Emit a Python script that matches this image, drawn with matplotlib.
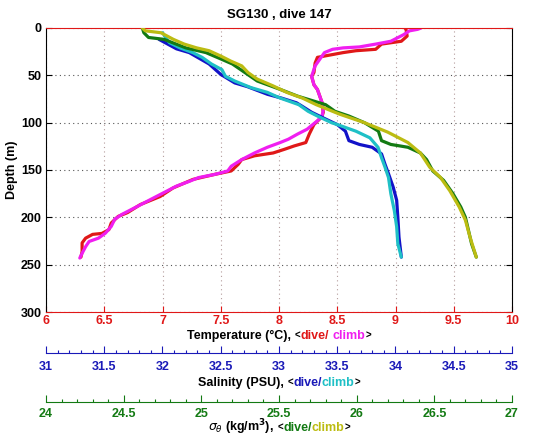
import matplotlib
matplotlib.use("Agg")
import matplotlib.pyplot as plt
import numpy as np

plt.rcParams['font.family'] = ['Liberation Sans', 'DejaVu Sans']
plt.rcParams['mathtext.fontset'] = 'dejavusans'

# ---------------- data ----------------
title = "SG130 , dive 147"

temp_dive_depth = [0, 1.4, 8.5, 14, 17, 22.5, 24, 26, 31, 37, 47, 51, 60, 65, 72, 79, 89, 93, 96,
                   102, 112, 121, 124.6, 128, 132, 135, 139, 144, 151, 154.6, 160, 169, 178, 186.5,
                   195, 199, 206, 213, 217, 218, 222, 227, 236, 242]
temp_dive = [9.08, 9.09, 9.10, 9.05, 8.88, 8.83, 8.66, 8.55, 8.33, 8.31, 8.30, 8.28, 8.30, 8.33,
             8.35, 8.37, 8.38, 8.37, 8.35, 8.30, 8.26, 8.23, 8.13, 8.05, 7.95, 7.79, 7.68, 7.65,
             7.59, 7.45, 7.26, 7.09, 6.98, 6.81, 6.70, 6.62, 6.56, 6.54, 6.48, 6.40, 6.34, 6.31,
             6.31, 6.30]

temp_climb_depth = [0, 1.4, 3, 7, 14, 17, 20, 21, 22.5, 26, 33, 40, 51, 60, 65, 72, 79, 86, 93, 98,
                    107, 112, 117.5, 121, 126, 132, 139, 146, 151, 154.6, 158, 162, 167, 174, 181,
                    190, 197, 202, 209.6, 216.7, 222, 225.5, 231, 238, 243]
temp_climb = [9.22, 9.19, 9.12, 9.07, 8.96, 8.83, 8.69, 8.55, 8.46, 8.39, 8.35, 8.31, 8.28, 8.30,
              8.33, 8.35, 8.37, 8.38, 8.37, 8.33, 8.24, 8.16, 8.08, 8.01, 7.90, 7.79, 7.68, 7.59,
              7.56, 7.45, 7.31, 7.23, 7.12, 7.01, 6.90, 6.76, 6.65, 6.59, 6.56, 6.51, 6.45, 6.37,
              6.34, 6.31, 6.29]

sal_dive_depth = [12, 22, 26, 38, 49, 58, 62, 70, 74, 79, 82, 89, 95, 102, 109, 119, 123, 126, 133,
                  144, 154, 168, 182, 200, 221, 242]
sal_dive = [31.97, 32.12, 32.23, 32.40, 32.50, 32.62, 32.73, 32.90, 33.02, 33.15, 33.19, 33.28,
            33.38, 33.50, 33.57, 33.60, 33.69, 33.80, 33.88, 33.91, 33.94, 33.98, 34.01, 34.02,
            34.03, 34.05]

sal_climb_depth = [5, 15.5, 21, 26, 31, 38, 44, 51, 56, 63, 68, 74, 81, 88, 93, 100, 102, 109, 116,
                   126, 137, 147, 158, 175, 193, 210, 228, 242]
sal_climb = [32.00, 32.06, 32.15, 32.26, 32.34, 32.42, 32.51, 32.54, 32.62, 32.76, 32.90, 33.01,
             33.17, 33.25, 33.33, 33.45, 33.50, 33.66, 33.78, 33.85, 33.88, 33.91, 33.94, 33.96,
             33.99, 34.01, 34.02, 34.05]

sig_dive_depth = [0, 5, 10, 12, 21, 26, 33, 38, 47, 56, 65, 72, 81, 88, 93, 100, 109, 119, 123,
                  126, 132, 139, 151, 161, 175, 189, 200, 214, 228, 242]
sig_dive = [24.62, 24.63, 24.66, 24.76, 24.90, 25.03, 25.13, 25.20, 25.28, 25.36, 25.51, 25.62,
            25.80, 25.86, 25.95, 26.05, 26.14, 26.16, 26.22, 26.33, 26.41, 26.45, 26.49, 26.56,
            26.62, 26.67, 26.70, 26.72, 26.74, 26.77]

sig_climb_depth = [0, 3, 5, 12, 17, 21, 24, 30, 35, 40, 47, 54, 61, 68, 74, 81, 91, 100, 110, 121,
                   132, 147, 158, 172, 189, 203, 221, 242]
sig_climb = [24.62, 24.64, 24.74, 24.82, 24.89, 24.97, 25.05, 25.13, 25.19, 25.26, 25.30, 25.36,
             25.46, 25.55, 25.65, 25.74, 25.89, 26.05, 26.20, 26.33, 26.41, 26.47, 26.54, 26.60,
             26.66, 26.70, 26.73, 26.77]

temp_ticks = [6, 6.5, 7, 7.5, 8, 8.5, 9, 9.5, 10]
sal_ticks = [31, 31.5, 32, 32.5, 33, 33.5, 34, 34.5, 35]
sig_ticks = [24, 24.5, 25, 25.5, 26, 26.5, 27]
depth_ticks = [0, 50, 100, 150, 200, 250, 300]

# ---------------- styling ----------------
RED = '#e01818'
MAG = '#f01ef0'
BLUE = '#1a1ab8'
DBLUE = '#1212c8'
CYAN = '#1fc0c6'
GREEN = '#137a13'
YEL = '#bcbc12'

W, H = 535, 442
fig = plt.figure(figsize=(W / 100, H / 100), dpi=100)

L, R = 46, 512
TOP, BOT = 28, 312


def rect(y_top, h):
    return [L / W, 1 - (y_top + h) / H, (R - L) / W, h / H]


def fmt(v):
    return ('%g' % v)


ax = fig.add_axes(rect(TOP, BOT - TOP))
ax.set_xlim(6, 10)
ax.set_ylim(300, 0)
ax.set_xticks(temp_ticks)
ax.set_xticklabels([fmt(v) for v in temp_ticks], fontweight='bold', fontsize=9)
ax.set_yticks(depth_ticks)
ax.set_yticklabels([fmt(v) for v in depth_ticks], fontweight='bold', fontsize=9)
ax.tick_params(axis='x', colors=RED, direction='in', top=True, length=4, width=0.8, pad=2)
ax.tick_params(axis='y', colors='k', direction='in', right=True, length=4, width=0.8, pad=3)
for s in ['top', 'bottom']:
    ax.spines[s].set_color(RED)
for s in ['left', 'right']:
    ax.spines[s].set_color('k')
for s in ax.spines.values():
    s.set_linewidth(0.8)
ax.grid(axis='x', color='#b49c9c', ls=(0, (1, 3)), lw=0.8)
ax.grid(axis='y', color='#555555', ls=(0, (1, 3)), lw=0.8)

lw = 2.3
ax.plot(temp_dive, temp_dive_depth, color=RED, lw=lw, solid_capstyle='round', solid_joinstyle='round')
ax.plot(temp_climb, temp_climb_depth, color=MAG, lw=lw, solid_capstyle='round', solid_joinstyle='round')

axs = ax.twiny()
axs.set_xlim(31, 35)
axs.set_axis_off()
axs.plot(sal_dive, sal_dive_depth, color=DBLUE, lw=lw, solid_capstyle='round', solid_joinstyle='round')
axs.plot(sal_climb, sal_climb_depth, color=CYAN, lw=lw, solid_capstyle='round', solid_joinstyle='round')

axg = ax.twiny()
axg.set_xlim(24, 27)
axg.set_axis_off()
axg.plot(sig_dive, sig_dive_depth, color=GREEN, lw=lw, solid_capstyle='round', solid_joinstyle='round')
axg.plot(sig_climb, sig_climb_depth, color=YEL, lw=lw, solid_capstyle='round', solid_joinstyle='round')


def scale_axis(ypix, lo, hi, ticks, color, pad):
    a = fig.add_axes([L / W, 1 - ypix / H, (R - L) / W, 1e-5])
    a.set_xlim(lo, hi)
    a.set_yticks([])
    for s in ['top', 'left', 'right']:
        a.spines[s].set_visible(False)
    a.spines['bottom'].set_color(color)
    a.spines['bottom'].set_linewidth(0.8)
    a.patch.set_visible(False)
    a.set_xticks(ticks)
    a.set_xticklabels([fmt(v) for v in ticks], fontweight='bold', fontsize=9)
    a.set_xticks(np.arange(lo, hi + 1e-9, 0.1), minor=True)
    a.tick_params(axis='x', which='both', direction='in', colors=color, width=0.8, pad=pad)
    a.tick_params(axis='x', which='major', length=5)
    a.tick_params(axis='x', which='minor', length=2.5)
    return a


scale_axis(353, 31, 35, sal_ticks, BLUE, 6)
scale_axis(402, 24, 27, sig_ticks, GREEN, 4)

fig.text((L + R) / 2 / W, 1 - 18 / H, title, ha='center', va='baseline', fontsize=9.5, fontweight='bold')
fig.text(12 / W, 1 - 170 / H, 'Depth (m)', rotation=90, ha='center', va='center', fontsize=9, fontweight='bold')

renderer = fig.canvas.get_renderer()


def measure(s, fs):
    t = fig.text(0, 0, s, fontsize=fs, fontweight='bold')
    w = t.get_window_extent(renderer).width
    t.remove()
    return w


def mc_text(xc, ybase, parts):
    sp = measure('a a', 9) - measure('aa', 9)
    objs = []
    total = 0
    for s, c, fs, gap in parts:
        t = fig.text(0, 1 - ybase / H, s, color=c, fontsize=fs, fontweight='bold', va='baseline', ha='left')
        w = t.get_window_extent(renderer).width
        objs.append((t, w, gap * sp))
        total += w + gap * sp
    x = xc - total / 2
    for t, w, g in objs:
        t.set_x(x / W)
        x += w + g


xc = (L + R) / 2
mc_text(xc, 339, [("Temperature (°C),", 'k', 9, 1), ("<", 'k', 7, 0), ("dive/", RED, 9, 1),
                  ("climb", MAG, 9, 0), (">", 'k', 7, 0)])
mc_text(xc, 386, [("Salinity (PSU),", 'k', 9, 1), ("<", 'k', 7, 0), ("dive/", BLUE, 9, 0),
                  ("climb", CYAN, 9, 0), (">", 'k', 7, 0)])
mc_text(xc, 431, [(r"$\sigma_{\theta}$ (kg/m$^{\mathbf{3}}$),", 'k', 9, 1), ("<", 'k', 7, 0),
                  ("dive/", GREEN, 9, 0), ("climb", YEL, 9, 0), (">", 'k', 7, 0)])

fig.savefig('out.png', dpi=100)
